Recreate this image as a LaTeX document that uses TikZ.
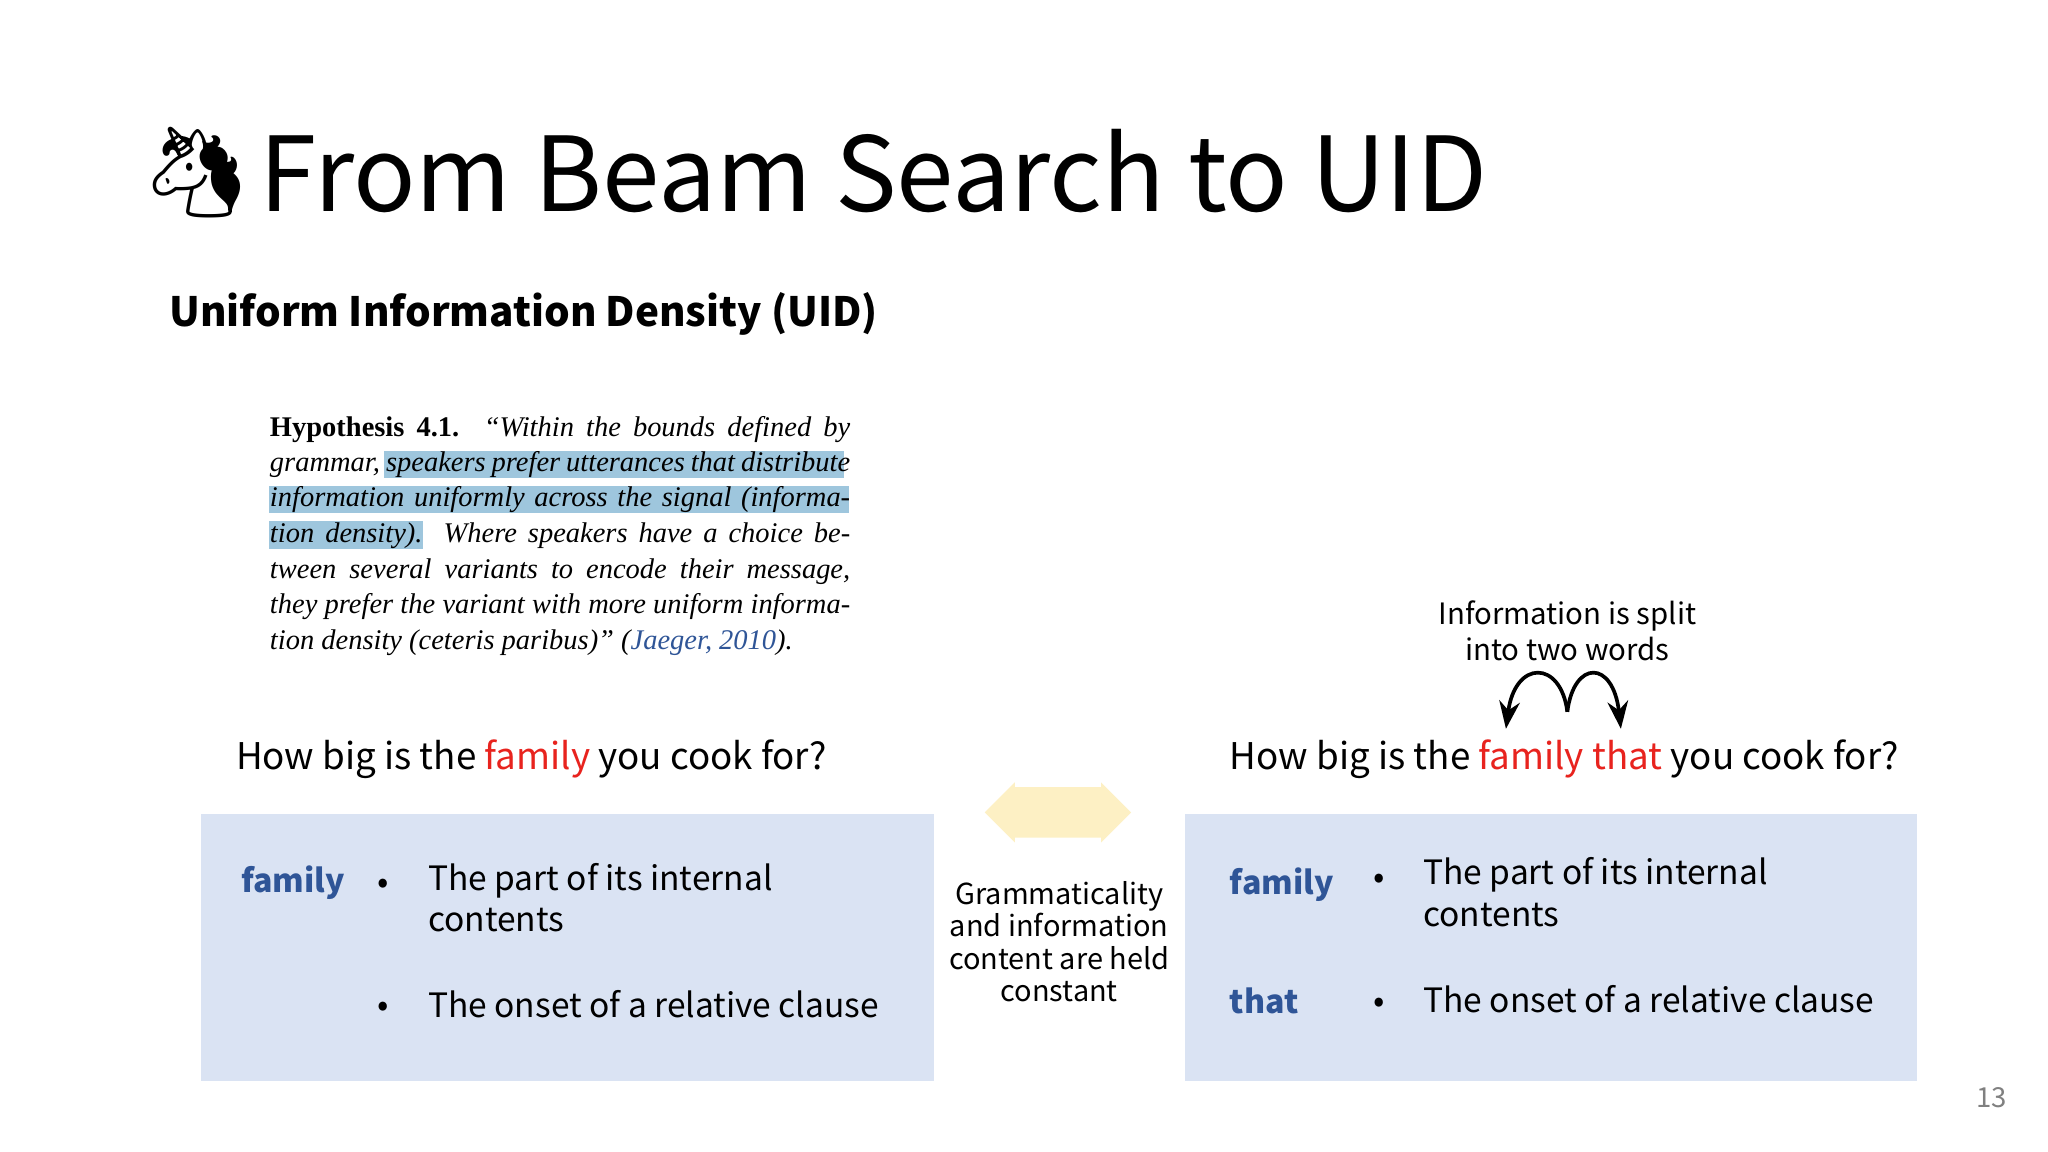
\documentclass[tikz,border=0pt]{standalone}
\usepackage{fontspec}
\setmainfont{Noto Sans CJK KR}
\newfontfamily\emo{Noto Emoji}
\newfontfamily\tms{Liberation Serif}
\usetikzlibrary{arrows.meta,shapes.arrows}
\definecolor{boxbg}{HTML}{DAE3F3}
\definecolor{hl}{HTML}{9EC6DD}
\definecolor{wred}{HTML}{E8231E}
\definecolor{wblue}{HTML}{2F5597}
\definecolor{arr}{HTML}{FDF0C4}
\begin{document}
\begin{tikzpicture}[x=0.01cm,y=-0.01cm,
  hy/.style={anchor=base west,inner sep=0,font=\tms\fontsize{6.2}{8}\selectfont},
  q/.style={anchor=base west,inner sep=0,font=\fontsize{8}{10}\selectfont},
  bt/.style={anchor=base west,inner sep=0,font=\fontsize{7.3}{9.1}\selectfont},
  kw/.style={anchor=base west,inner sep=0,font=\bfseries\fontsize{7}{9}\selectfont,text=wblue},
  sm/.style={align=center,inner sep=0,font=\fontsize{6.3}{7}\selectfont}]
\useasboundingbox (0,0) rectangle (1568,882);
\fill[white] (0,0) rectangle (1568,882);
% title
\node[anchor=base west,inner sep=0,font=\emo\fontsize{19}{20}\selectfont] (uni) at (108,156) {🦄};
\node[anchor=base west,inner sep=0,font=\fontsize{22.5}{26}\selectfont] (title) at (198,162) {From Beam Search to UID};
\node[anchor=base west,inner sep=0,font=\bfseries\fontsize{8.8}{11}\selectfont] (sub) at (129,250) {Uniform Information Density (UID)};
% highlights
\fill[hl] (294,345) rectangle (646,366);
\fill[hl] (206,372) rectangle (650,393);
\fill[hl] (206,399) rectangle (324,420);
\node[hy] (h1) at (206,334) {\hbox to 4.44cm{\textbf{Hypothesis 4.1.} \itshape “Within the bounds defined by}};
\node[hy] (h2) at (206,361) {\hbox to 4.44cm{\itshape grammar, speakers prefer utterances that distribute}};
\node[hy] (h3) at (206,388) {\hbox to 4.44cm{\itshape information uniformly across the signal (informa-}};
\node[hy] (h4) at (206,415) {\hbox to 4.44cm{\itshape tion density). Where speakers have a choice be-}};
\node[hy] (h5) at (206,443) {\hbox to 4.44cm{\itshape tween several variants to encode their message,}};
\node[hy] (h6) at (206,470) {\hbox to 4.44cm{\itshape they prefer the variant with more uniform informa-}};
\node[hy] (h7) at (206,497) {\itshape tion density (ceteris paribus)” ({\color{wblue}Jaeger, 2010}).};
% questions
\node[q] (q1) at (180,589) {How big is the {\color{wred}family} you cook for?};
\node[q] (q2) at (941,589) {How big is the {\color{wred}family that} you cook for?};
% boxes
\fill[boxbg] (154,623) rectangle (715,828);
\fill[boxbg] (907,623) rectangle (1468,828);
\node[kw] (k1) at (184,683) {family};
\node[bt] (b1) at (288,684) {•};
\node[bt,align=left,anchor=north west] (t1) at (327,660) {The part of its internal\\contents};
\node[bt] (b2) at (288,778) {•};
\node[bt] (t2) at (327,779) {The onset of a relative clause};
\node[kw] (k2) at (941,685) {family};
\node[bt] (b3) at (1051,680) {•};
\node[bt,align=left,anchor=north west] (t3) at (1089,656) {The part of its internal\\contents};
\node[kw] (k3) at (941,776) {that};
\node[bt] (b4) at (1051,775) {•};
\node[bt] (t4) at (1089,775) {The onset of a relative clause};
% middle
\node[double arrow,fill=arr,minimum width=0.46cm,minimum height=1.12cm,double arrow head extend=0.02cm,inner sep=0.1cm] (da) at (810,622) {};
\node[sm] (g) at (811,721) {Grammaticality\\and information\\content are held\\constant};
% info split
\node[sm,font=\fontsize{6.4}{8}\selectfont] (inf) at (1200,483) {Information is split\\into two words};
\coordinate (p1) at (1153,558);
\coordinate (p2) at (1200,545);
\coordinate (p3) at (1241,558);
\draw[-{Stealth[length=6pt]},thick] (p2) .. controls (1195,505) and (1160,505) .. (p1);
\draw[-{Stealth[length=6pt]},thick] (p2) .. controls (1205,505) and (1235,505) .. (p3);
\node[anchor=base,inner sep=0,font=\fontsize{6}{7}\selectfont,text=gray] (pg) at (1525,848) {13};
\end{tikzpicture}
\end{document}
